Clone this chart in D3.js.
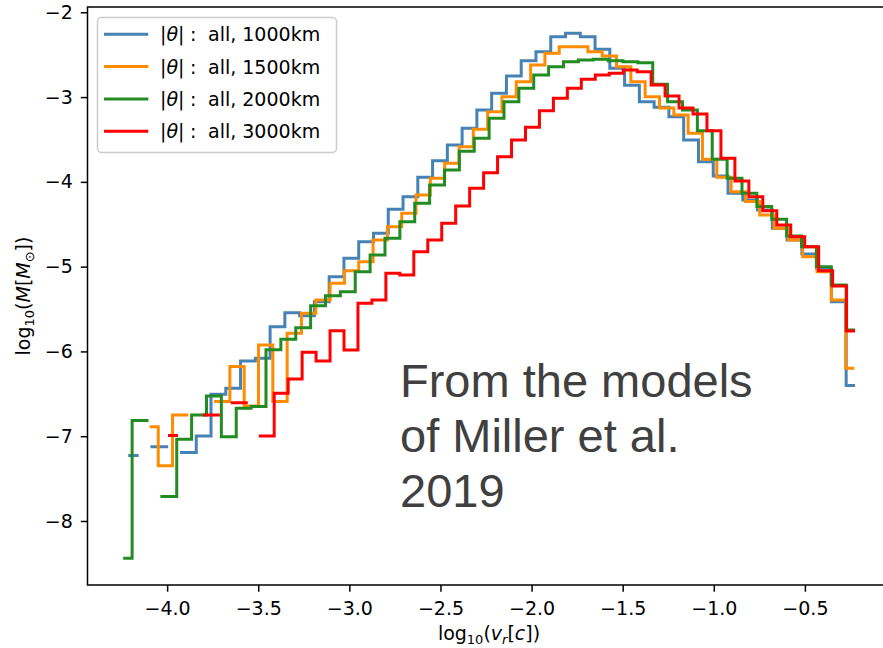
<!DOCTYPE html>
<html>
<head>
<meta charset="utf-8">
<script src="https://cdn.jsdelivr.net/npm/d3@7"></script>
<style>
  html, body { margin: 0; padding: 0; background: #fff; }
  svg { display: block; }
</style>
</head>
<body>
<svg id="chart" width="883" height="648"></svg>
<script>
// ---------- data ----------
const seriesNames = ["1000km", "1500km", "2000km", "3000km"];
const seriesColors = ["#4682b4", "#ff8c00", "#228b22", "#ff0000"];
// first and last histogram-bin centre (log10 v_r) for each series, 50 bins each
const binFirst = [-4.205, -4.088, -4.233, -3.987];
const binLast  = [-0.233, -0.237, -0.233, -0.233];

const m1000 = [-7.229, null, -7.123, null, -7.193, -6.997, -6.505, -6.434, -6.112, -6.080,
  -5.708, -5.543, -5.578, -5.413, -5.118, -4.901, -4.705, -4.606, -4.323, -4.175,
  -3.946, -3.750, -3.565, -3.368, -3.152, -2.955, -2.751, -2.571, -2.465, -2.288,
  -2.248, -2.288, -2.436, -2.660, -2.860, -3.054, -3.120, -3.231, -3.506, -3.762,
  -3.930, -4.134, -4.213, -4.331, -4.547, -4.685, -4.850, -5.019, -5.413, -6.403];
const m1500 = [-6.887, -7.347, -6.749, null, null, -6.592, -6.179, -6.643, -5.923, -6.592,
  -5.785, -5.550, -5.393, -5.196, -5.047, -4.941, -4.685, -4.528, -4.370, -4.154,
  -3.958, -3.781, -3.585, -3.380, -3.172, -2.995, -2.818, -2.621, -2.483, -2.406,
  -2.406, -2.465, -2.515, -2.641, -2.818, -2.995, -3.129, -3.211, -3.427, -3.733,
  -3.946, -4.116, -4.233, -4.390, -4.547, -4.685, -4.882, -5.059, -5.393, -6.198];
const m2000 = [-8.439, -6.816, null, -7.712, -7.035, -6.749, -6.525, -7.005, -6.670, -6.651,
  -5.980, -5.856, -5.720, -5.460, -5.342, -5.295, -5.059, -4.862, -4.665, -4.469,
  -4.252, -4.036, -3.860, -3.640, -3.486, -3.250, -3.054, -2.896, -2.739, -2.641,
  -2.583, -2.562, -2.554, -2.571, -2.583, -2.594, -2.850, -3.054, -3.152, -3.396,
  -3.733, -3.958, -4.134, -4.292, -4.441, -4.638, -4.764, -5.000, -5.216, -5.747];
const m3000 = [-6.993, null, null, -6.749, null, -6.604, null, -6.997, -6.493, -6.324,
  -6.009, -6.112, -5.755, -5.982, -5.432, -5.393, -5.078, -5.098, -4.823, -4.685,
  -4.488, -4.284, -4.076, -3.892, -3.703, -3.506, -3.356, -3.160, -3.014, -2.896,
  -2.790, -2.739, -2.719, -2.680, -2.700, -2.857, -2.987, -3.130, -3.199, -3.396,
  -3.722, -3.989, -4.175, -4.340, -4.508, -4.646, -4.764, -5.047, -5.228, -5.758];
const seriesValues = [m1000, m1500, m2000, m3000];

const xTicks = [-4.0, -3.5, -3.0, -2.5, -2.0, -1.5, -1.0, -0.5];
const yTicks = [-8, -7, -6, -5, -4, -3, -2];
const noteLines = ["From the models", "of Miller et al.", "2019"];

// ---------- layout ----------
const svg = d3.select("#chart");
const FONT = "'DejaVu Sans', sans-serif";
const L = 87.5, R = 886.9, T = 7, B = 585;
const x = d3.scaleLinear().domain([-4.437, -0.05]).range([L, R]);
const y = d3.scaleLinear().domain([-8.755, -1.9375]).range([B, T]);

// ---------- series (matplotlib steps-mid) ----------
function stepVertices(first, last, vals) {
  const n = vals.length;
  const dx = (last - first) / (n - 1);
  const c = vals.map((_, i) => first + i * dx);
  const pts = [];
  for (let i = 0; i < n; i++) {
    const left = i === 0 ? c[0] : (c[i - 1] + c[i]) / 2;
    const right = i === n - 1 ? c[n - 1] : (c[i] + c[i + 1]) / 2;
    pts.push({ x: left, y: vals[i] });
    pts.push({ x: right, y: vals[i] });
  }
  return pts;
}
const line = d3.line()
  .defined(d => d.y !== null)
  .x(d => x(d.x))
  .y(d => y(d.y));

const plot = svg.append("g");
seriesValues.forEach((vals, k) => {
  plot.append("path")
    .attr("d", line(stepVertices(binFirst[k], binLast[k], vals)))
    .attr("fill", "none")
    .attr("stroke", seriesColors[k])
    .attr("stroke-width", 3)
    .attr("stroke-linecap", "square")
    .attr("stroke-linejoin", "miter");
});

// ---------- axes ----------
const fmtX = d3.format(".1f");
const xAxis = d3.axisBottom(x).tickValues(xTicks).tickFormat(fmtX)
  .tickSize(6.7).tickSizeOuter(0).tickPadding(10);
const gx = svg.append("g").attr("transform", `translate(0,${B})`).call(xAxis);
gx.select(".domain").remove();
gx.selectAll(".tick line").attr("stroke", "#000").attr("stroke-width", 1.5);
gx.selectAll(".tick text").attr("font-size", 19).attr("fill", "#000")
  .style("font-family", FONT);

const yAxis = d3.axisLeft(y).tickValues(yTicks).tickFormat(d3.format("d"))
  .tickSize(6.7).tickSizeOuter(0).tickPadding(8);
const gy = svg.append("g").attr("transform", `translate(${L},0)`).call(yAxis);
gy.select(".domain").remove();
gy.selectAll(".tick line").attr("stroke", "#000").attr("stroke-width", 1.5);
gy.selectAll(".tick text").attr("font-size", 19).attr("fill", "#000")
  .style("font-family", FONT);

// frame
svg.append("rect").attr("x", L).attr("y", T).attr("width", R - L).attr("height", B - T)
  .attr("fill", "none").attr("stroke", "#000").attr("stroke-width", 1.5);

// axis labels
const xl = svg.append("text").attr("x", 489).attr("y", 640).attr("text-anchor", "middle")
  .attr("font-size", 19).attr("fill", "#000").style("font-family", FONT);
xl.append("tspan").text("log");
xl.append("tspan").attr("font-size", 13).attr("dy", 4).text("10");
xl.append("tspan").attr("dy", -4).text("(");
xl.append("tspan").attr("font-style", "italic").text("v");
xl.append("tspan").attr("font-style", "italic").attr("font-size", 13).attr("dy", 4).text("r");
xl.append("tspan").attr("dy", -4).text("[");
xl.append("tspan").attr("font-style", "italic").text("c");
xl.append("tspan").text("])");

const yl = svg.append("text").attr("transform", `translate(30,${(T + B) / 2}) rotate(-90)`)
  .attr("text-anchor", "middle").attr("font-size", 19).attr("fill", "#000")
  .style("font-family", FONT);
yl.append("tspan").text("log");
yl.append("tspan").attr("font-size", 13).attr("dy", 4).text("10");
yl.append("tspan").attr("dy", -4).text("(");
yl.append("tspan").attr("font-style", "italic").text("M");
yl.append("tspan").text("[");
yl.append("tspan").attr("font-style", "italic").text("M");
yl.append("tspan").attr("font-size", 13).attr("dy", 4).text("\u2299");
yl.append("tspan").attr("dy", -4).text("])");

// ---------- legend ----------
const lg = svg.append("g");
lg.append("rect").attr("x", 97.5).attr("y", 17.5).attr("width", 239).attr("height", 135)
  .attr("rx", 4).attr("fill", "#fff").attr("fill-opacity", 0.8)
  .attr("stroke", "#cccccc").attr("stroke-width", 1.5);
seriesNames.forEach((name, k) => {
  const ry = 34.3 + k * 32.3;
  lg.append("line").attr("x1", 105.5).attr("x2", 146.8).attr("y1", ry).attr("y2", ry)
    .attr("stroke", seriesColors[k]).attr("stroke-width", 3).attr("stroke-linecap", "square");
  const t = lg.append("text").attr("y", ry + 7).attr("font-size", 19).attr("fill", "#000")
    .style("font-family", FONT);
  t.append("tspan").attr("x", 160).text("|");
  t.append("tspan").attr("font-style", "italic").text("\u03b8");
  t.append("tspan").text("|");
  t.append("tspan").attr("x", 190).text(":");
  t.append("tspan").attr("x", 208).text("all, " + name);
});

// ---------- annotation ----------
noteLines.forEach((s, i) => {
  svg.append("text").attr("x", 400).attr("y", 396.7 + i * 55)
    .style("font-family", "'Liberation Sans', Arial, sans-serif")
    .attr("font-size", 47).attr("fill", "#404040").text(s);
});
</script>
</body>
</html>
